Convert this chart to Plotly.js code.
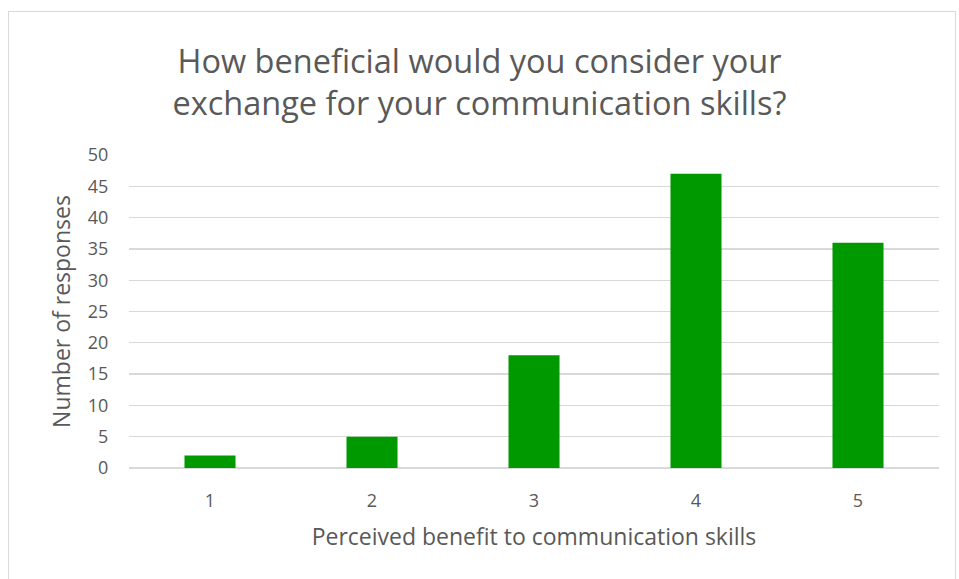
<!DOCTYPE html>
<html><head><meta charset="utf-8">
<script src="https://cdn.plot.ly/plotly-3.0.1.min.js"></script>
<style>
html,body{margin:0;padding:0;background:#fff;}
#wrap{position:relative;width:959px;height:579px;}
#chart{position:absolute;left:0;top:0;width:959px;height:579px;}
#frame{position:absolute;left:8px;top:11px;width:946px;height:580px;border:1px solid #d9d9d9;pointer-events:none;}
</style></head>
<body>
<div id="wrap"><div id="chart"></div><div id="frame"></div></div>
<script>
const categories = ['1', '2', '3', '4', '5'];
const responses = [2, 5, 18, 47, 36];
const yTicks = [0, 5, 10, 15, 20, 25, 30, 35, 40, 45, 50];

const gray = '#595959';
const fontFam = 'Open Sans, sans-serif';

Plotly.newPlot('chart', [{
  type: 'bar',
  x: categories,
  y: responses,
  marker: {color: '#009900', line: {width: 0}},
  width: 0.315,
  hoverinfo: 'x+y'
}], {
  width: 959, height: 579,
  margin: {l: 129, r: 20, t: 155, b: 111},
  paper_bgcolor: 'rgba(0,0,0,0)',
  plot_bgcolor: 'rgba(0,0,0,0)',
  title: {
    text: 'How beneficial would you consider your<br>exchange for your communication skills?',
    font: {family: fontFam, size: 32.5, color: gray},
    x: 0.5, xanchor: 'center', yref: 'container', y: 1 - 73/579, yanchor: 'middle'
  },
  xaxis: {
    type: 'category',
    tickfont: {family: fontFam, size: 18, color: gray},
    showline: false, showgrid: false, ticks: 'outside', ticklen: 16, tickcolor: 'rgba(0,0,0,0)',
    title: {text: 'Perceived benefit to communication skills', font: {family: fontFam, size: 23, color: gray}, standoff: 18}
  },
  yaxis: {
    range: [0, 50],
    tickvals: yTicks,
    ticktext: yTicks.map(String),
    tickfont: {family: fontFam, size: 18, color: gray},
    showgrid: true, gridcolor: '#d9d9d9', gridwidth: 1.3,
    zeroline: true, zerolinecolor: '#d9d9d9', zerolinewidth: 1.3,
    showline: false, ticks: 'outside', ticklen: 16, tickcolor: 'rgba(0,0,0,0)',
    title: {text: 'Number of responses', font: {family: fontFam, size: 23, color: gray}, standoff: 10}
  },
  bargap: 0.685,
  showlegend: false
}, {displayModeBar: false, staticPlot: true});
</script>
</body></html>
